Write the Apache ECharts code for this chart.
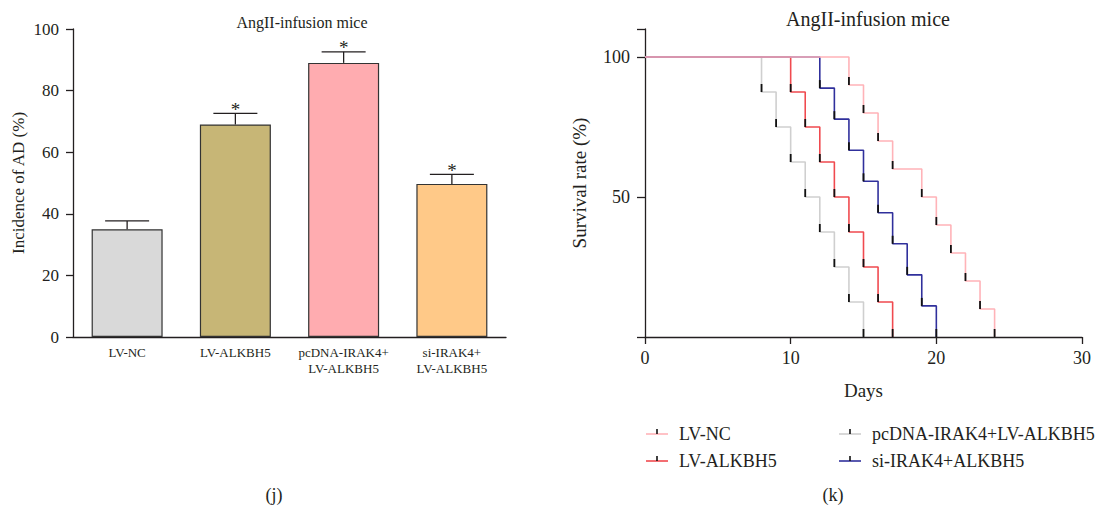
<!DOCTYPE html>
<html>
<head>
<meta charset="utf-8">
<script src="https://cdn.jsdelivr.net/npm/echarts@6/dist/echarts.min.js"></script>
<style>
  html, body { margin: 0; padding: 0; background: #fff; }
  #chart { width: 1102px; height: 511px; }
</style>
</head>
<body>
<div id="chart"></div>
<script>
// (j) incidence of AD
const categories = ['LV-NC', 'LV-ALKBH5', 'pcDNA-IRAK4+\nLV-ALKBH5', 'si-IRAK4+\nLV-ALKBH5'];
const incidence = [35, 69, 89, 49.7];
const incidenceUpper = [37.7, 72.6, 92.6, 52.8];
const significance = ['', '*', '*', '*'];
const barColors = ['#d9d9d9', '#c7b676', '#ffacb0', '#ffc988'];

// (k) survival curves
const curveNames = ['LV-NC', 'LV-ALKBH5', 'pcDNA-IRAK4+LV-ALKBH5', 'si-IRAK4+ALKBH5'];
const curveColors = ['#ffb3b8', '#f04a4f', '#cfcfcf', '#30309c'];
const ncDays = [0, 14, 15, 16, 17, 19, 20, 21, 22, 23, 24];
const ncSurv = [100, 90, 80, 70, 60, 50, 40, 30, 20, 10, 0];
const alkDays = [0, 10, 11, 12, 13, 14, 15, 16, 17];
const alkSurv = [100, 87.5, 75, 62.5, 50, 37.5, 25, 12.5, 0];
const pcDays = [0, 8, 9, 10, 11, 12, 13, 14, 15];
const pcSurv = [100, 87.5, 75, 62.5, 50, 37.5, 25, 12.5, 0];
const siDays = [0, 12, 13, 14, 15, 16, 17, 18, 19, 20];
const siSurv = [100, 88.9, 77.8, 66.7, 55.6, 44.4, 33.3, 22.2, 11.1, 0];
const survivalTicks = [50, 100];

const font = '"Liberation Serif", "Times New Roman", serif';
const ink = '#231f20';
const curves = [
    {days: ncDays, surv: ncSurv},
    {days: alkDays, surv: alkSurv},
    {days: pcDays, surv: pcSurv},
    {days: siDays, surv: siSurv}
];

const chart = echarts.init(document.getElementById('chart'), null, {renderer: 'svg'});

function renderErrorBar(params, api) {
    const mean = api.coord([api.value(0), api.value(1)]);
    const top = api.coord([api.value(0), api.value(2)]);
    const cap = 22;
    const children = [
        {type: 'line', shape: {x1: mean[0], y1: mean[1], x2: top[0], y2: top[1]}, style: {stroke: ink, lineWidth: 1.3}},
        {type: 'line', shape: {x1: top[0] - cap, y1: top[1], x2: top[0] + cap, y2: top[1]}, style: {stroke: ink, lineWidth: 1.3}}
    ];
    const mark = significance[params.dataIndex];
    if (mark) {
        children.push({
            type: 'text',
            style: {text: mark, x: top[0], y: top[1] + 3, align: 'center', verticalAlign: 'bottom',
                fontFamily: font, fontSize: 19, lineHeight: 14, fill: ink}
        });
    }
    return {type: 'group', children: children};
}

function renderCensor(params, api) {
    const p = api.coord([api.value(0), api.value(1)]);
    return {
        type: 'line',
        shape: {x1: p[0], y1: p[1] - 8, x2: p[0], y2: p[1]},
        style: {stroke: '#111', lineWidth: 1.8}
    };
}

// survival series, drawn so that LV-NC ends on top
const drawOrder = [2, 1, 3, 0];
const survivalSeries = [];
drawOrder.forEach((k) => {
    const c = curves[k];
    survivalSeries.push({
        name: curveNames[k],
        type: 'line',
        xAxisIndex: 1,
        yAxisIndex: 1,
        step: 'end',
        showSymbol: false,
        symbol: 'none',
        lineStyle: {color: curveColors[k], width: 1.6},
        data: c.days.map((d, i) => [d, c.surv[i]]),
        z: 3
    });
    survivalSeries.push({
        type: 'custom',
        xAxisIndex: 1,
        yAxisIndex: 1,
        renderItem: renderCensor,
        data: c.days.slice(1).map((d, i) => [d, c.surv[i + 1]]),
        z: 4
    });
});

// legend drawn by hand: coloured line with a black censor tick
const legendPos = [[646, 434], [646, 461], [839, 434], [839, 461]];
const legendGraphics = [];
curveNames.forEach((name, k) => {
    const [x, y] = legendPos[k];
    legendGraphics.push(
        {type: 'line', shape: {x1: x, y1: y, x2: x + 22, y2: y}, style: {stroke: curveColors[k], lineWidth: 1.6}},
        {type: 'line', shape: {x1: x + 11, y1: y - 5, x2: x + 11, y2: y}, style: {stroke: '#111', lineWidth: 1.6}},
        {type: 'text', x: x + 33, y: y, style: {text: name, fontFamily: font, fontSize: 18, fill: ink, verticalAlign: 'middle'}}
    );
});

const axisLine = {show: true, lineStyle: {color: ink, width: 1.3}};
const axisTick = {show: true, length: 7, lineStyle: {color: ink, width: 1.3}};

chart.setOption({
    animation: false,
    textStyle: {fontFamily: font},
    title: [
        {text: 'AngII-infusion mice', left: 297, top: 9, textAlign: 'center',
            textStyle: {fontFamily: font, fontSize: 16, fontWeight: 'normal', color: ink}},
        {text: 'AngII-infusion mice', left: 863, top: 4, textAlign: 'center',
            textStyle: {fontFamily: font, fontSize: 20, fontWeight: 'normal', color: ink}}
    ],
    grid: [
        {left: 73, top: 29, width: 433, height: 308},
        {left: 645, top: 29, width: 437, height: 308}
    ],
    xAxis: [
        {
            type: 'category', gridIndex: 0, data: categories,
            axisLine: axisLine, axisTick: {show: false},
            axisLabel: {color: ink, fontSize: 13, margin: 7, lineHeight: 16, fontFamily: font, interval: 0}
        },
        {
            type: 'value', gridIndex: 1, min: 0, max: 30, interval: 10,
            axisLine: {show: true, onZero: false, lineStyle: {color: ink, width: 1.3}},
            axisTick: axisTick, splitLine: {show: false},
            axisLabel: {color: ink, fontSize: 18, margin: 12, fontFamily: font},
            name: 'Days', nameLocation: 'middle', nameGap: 44,
            nameTextStyle: {color: ink, fontSize: 19, fontFamily: font}
        }
    ],
    yAxis: [
        {
            type: 'value', gridIndex: 0, min: 0, max: 100, interval: 20,
            axisLine: axisLine, axisTick: axisTick, splitLine: {show: false},
            axisLabel: {color: ink, fontSize: 17, margin: 14, fontFamily: font},
            name: 'Incidence of AD (%)', nameLocation: 'middle', nameGap: 46,
            nameTextStyle: {color: ink, fontSize: 17, fontFamily: font}
        },
        {
            type: 'value', gridIndex: 1, min: 0, max: 110, interval: 50,
            axisLine: axisLine,
            axisTick: {show: true, length: 8, lineStyle: {color: ink, width: 1.3}},
            splitLine: {show: false},
            axisLabel: {color: ink, fontSize: 18, margin: 15, fontFamily: font,
                formatter: (v) => (survivalTicks.includes(v) ? String(v) : '')},
            name: 'Survival rate (%)', nameLocation: 'middle', nameGap: 56,
            nameTextStyle: {color: ink, fontSize: 19, fontFamily: font}
        }
    ],
    series: [
        {
            type: 'bar', xAxisIndex: 0, yAxisIndex: 0, barWidth: 71,
            data: incidence.map((v, i) => ({value: v, itemStyle: {color: barColors[i]}})),
            itemStyle: {borderColor: '#333', borderWidth: 1.2}
        },
        {
            type: 'custom', xAxisIndex: 0, yAxisIndex: 0, renderItem: renderErrorBar,
            data: incidence.map((v, i) => [i, v, incidenceUpper[i]]), z: 3
        }
    ].concat(survivalSeries),
    graphic: [
        {type: 'text', x: 274, y: 495, style: {text: '(j)', fontFamily: font, fontSize: 18, fill: ink, align: 'center', verticalAlign: 'middle'}},
        {type: 'text', x: 833, y: 495, style: {text: '(k)', fontFamily: font, fontSize: 18, fill: ink, align: 'center', verticalAlign: 'middle'}}
    ].concat(legendGraphics)
});
</script>
</body>
</html>
